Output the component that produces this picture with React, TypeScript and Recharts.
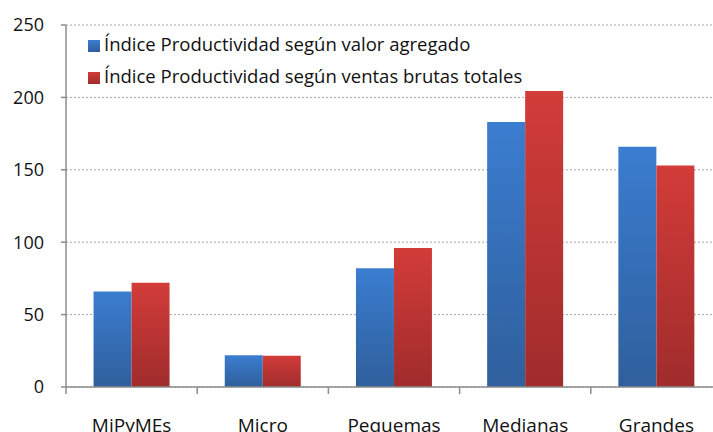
import { Bar, BarChart, CartesianGrid, Legend, XAxis, YAxis } from 'recharts'

const categories = ['MiPyMEs', 'Micro', 'Pequemas', 'Medianas', 'Grandes']
const valorAgregado = [66, 22, 82, 183, 166]
const ventasBrutas = [72, 21.5, 96, 204.5, 153]
const yTicks = [0, 50, 100, 150, 200, 250]

const data = categories.map((name, i) => ({
  name,
  valor: valorAgregado[i],
  ventas: ventasBrutas[i],
}))

const W = 722
const H = 432
const LEFT = 66
const BAND = (W - LEFT) / categories.length
const FONT = 'Open Sans, "Noto Sans", sans-serif'

function CategoryTick(props: any) {
  const { x, y, payload } = props
  return (
    <g>
      <line x1={x + BAND / 2} y1={y - 8} x2={x + BAND / 2} y2={y - 1} stroke="#8c8c8c" strokeWidth={1.5} />
      {payload.index === 0 && (
        <line x1={x - BAND / 2} y1={y - 8} x2={x - BAND / 2} y2={y - 1} stroke="#8c8c8c" strokeWidth={1.5} />
      )}
      <text x={x} y={y + 37} textAnchor="middle" fontSize={19} fill="#111" fontFamily={FONT}>
        {payload.value}
      </text>
    </g>
  )
}

export default function App() {
  return (
    <div style={{ width: 713, height: H, overflow: 'hidden' }}>
      <style>{'body{margin:0;overflow:hidden}'}</style>
      <BarChart
        width={W}
        height={H}
        data={data}
        margin={{ top: 25, right: 0, bottom: 0, left: 0 }}
        barCategoryGap="21%"
        barGap={0}
      >
        <defs>
          <linearGradient id="gBlue" x1="0" y1="0" x2="0" y2="1">
            <stop offset="0%" stopColor="#3b7dd0" />
            <stop offset="100%" stopColor="#2f5f9c" />
          </linearGradient>
          <linearGradient id="gRed" x1="0" y1="0" x2="0" y2="1">
            <stop offset="0%" stopColor="#d23c39" />
            <stop offset="100%" stopColor="#a02c2c" />
          </linearGradient>
        </defs>
        <CartesianGrid vertical={false} stroke="#a6a6a6" strokeDasharray="2 2" />
        <XAxis
          dataKey="name"
          height={45}
          axisLine={{ stroke: '#8c8c8c', strokeWidth: 1.5 }}
          tickLine={false}
          tick={<CategoryTick />}
          interval={0}
        />
        <YAxis
          width={LEFT}
          domain={[0, 250]}
          ticks={yTicks}
          axisLine={{ stroke: '#8c8c8c', strokeWidth: 1.5 }}
          tickLine={{ stroke: '#8c8c8c', strokeWidth: 1.5 }}
          tickSize={5}
          tickMargin={17}
          tick={{ fontSize: 18, fill: '#111', fontFamily: FONT }}
        />
        <Legend
          layout="vertical"
          verticalAlign="middle"
          align="center"
          iconType="square"
          iconSize={12}
          wrapperStyle={{ top: 28, left: 88, width: 'auto', fontFamily: FONT, fontSize: 18.5, lineHeight: '32px' }}
          formatter={(v: string) => <span style={{ color: '#111' }}>{v}</span>}
        />
        <Bar dataKey="valor" name="Índice Productividad según valor agregado" fill="url(#gBlue)" legendType="square" isAnimationActive={false} />
        <Bar dataKey="ventas" name="Índice Productividad según ventas brutas totales" fill="url(#gRed)" legendType="square" isAnimationActive={false} />
      </BarChart>
    </div>
  )
}
